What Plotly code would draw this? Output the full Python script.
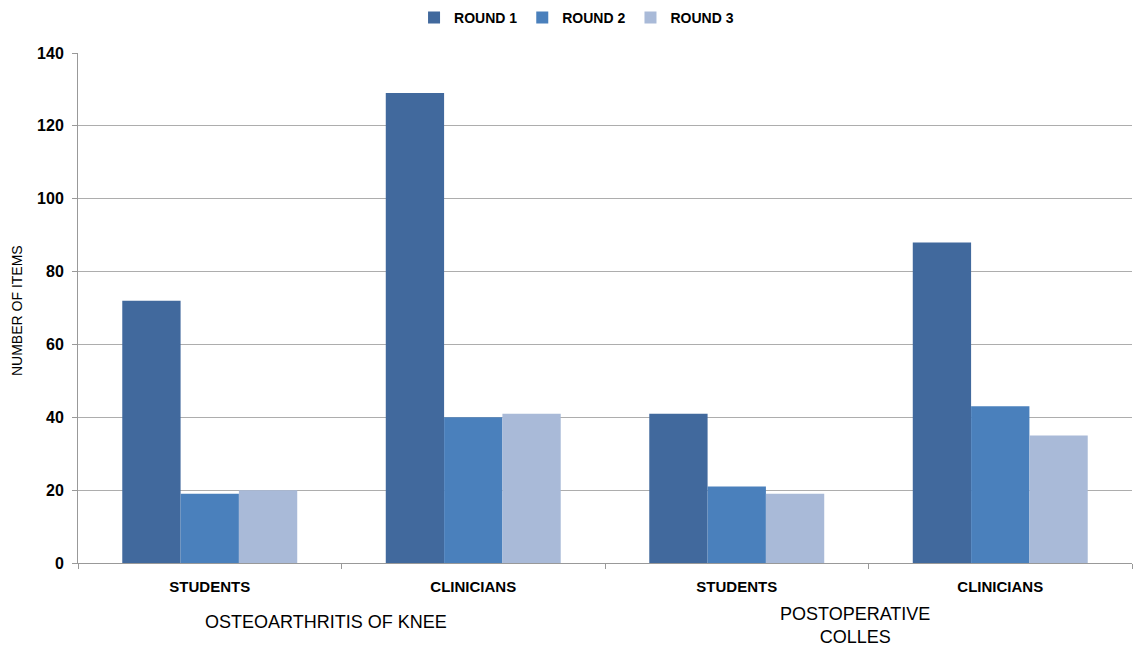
import plotly.graph_objects as go

groups = ["OSTEOARTHRITIS OF KNEE", "POSTOPERATIVE<br>COLLES"]
categories = ["STUDENTS", "CLINICIANS", "STUDENTS", "CLINICIANS"]
series_names = ["ROUND 1", "ROUND 2", "ROUND 3"]
round1 = [72, 129, 41, 88]
round2 = [19, 40, 21, 43]
round3 = [20, 41, 19, 35]
colors = ["#41699D", "#4A80BC", "#A9BAD8"]

xpos = list(range(len(categories)))
FONT = "Liberation Sans, Arial, sans-serif"

fig = go.Figure()
for name, vals, col in zip(series_names, [round1, round2, round3], colors):
    fig.add_trace(go.Bar(x=xpos, y=vals, name=name, marker=dict(color=col, line=dict(width=0))))

fig.update_layout(
    width=1134, height=646,
    margin=dict(l=78, r=2, t=53, b=83),
    plot_bgcolor="white", paper_bgcolor="white",
    barmode="group", bargap=0.336, bargroupgap=0,
    font=dict(family=FONT, color="#000000"),
    legend=dict(orientation="h", x=0.473, xanchor="center", y=1.069, yanchor="middle",
                font=dict(size=14, family=FONT, weight="bold"),
                itemwidth=30, traceorder="normal"),
    showlegend=True,
)
fig.update_yaxes(
    range=[0, 140], dtick=20, showgrid=True, gridcolor="#ADADAD", gridwidth=1,
    showline=True, linecolor="#999999", linewidth=1,
    ticks="outside", ticklen=5, tickcolor="#999999",
    tickfont=dict(size=16, family=FONT, weight="bold"),
    ticklabelstandoff=5,
    zeroline=False,
)
fig.update_xaxes(
    range=[-0.5, 3.5], tickmode="array", tickvals=xpos, ticktext=categories,
    ticks="", showline=True, linecolor="#999999", linewidth=1, showgrid=False,
    tickfont=dict(size=15, family=FONT, weight="bold"),
    ticklabelstandoff=10,
    minor=dict(tickmode="array", tickvals=[-0.5, 0.5, 1.5, 2.5, 3.5], ticks="outside",
               ticklen=5, tickcolor="#999999", showgrid=False),
)

fig.add_annotation(text="NUMBER OF ITEMS", textangle=-90, xref="paper", yref="paper",
                   x=-0.0579, y=0.496, xanchor="center", yanchor="middle", showarrow=False,
                   font=dict(size=14, family=FONT))
fig.add_annotation(text=groups[0], xref="x", yref="paper", x=0.441, y=-0.1157,
                   xanchor="center", yanchor="middle", showarrow=False,
                   font=dict(size=18, family=FONT))
fig.add_annotation(text=groups[1], xref="x", yref="paper", x=2.449, y=-0.1235,
                   xanchor="center", yanchor="middle", showarrow=False,
                   font=dict(size=18, family=FONT))

fig.write_html("out.html")
